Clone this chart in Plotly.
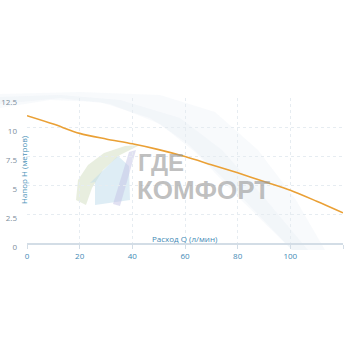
import plotly.graph_objects as go

# Data
flow_q = [0, 10, 20, 30, 40, 50, 60, 70, 80, 90, 100, 110, 120]
head_h = [10.97, 10.25, 9.45, 8.97, 8.55, 8.05, 7.45, 6.75, 6.05, 5.3, 4.55, 3.6, 2.6]
x_ticks = [0, 20, 40, 60, 80, 100, 120]
y_ticks = [0, 2.5, 5, 7.5, 10, 12.5]
y_tick_text = ["0", "2.5", "5", "7.5", "10", "12.5"]
x_title = "Расход Q (л/мин)"
y_title = "Напор H (метров)"
wm_line1 = "ГДЕ"
wm_line2 = "КОМФОРТ"

W, H = 350, 350
L, R, T, B = 27, 7, 98, 107
PW, PH = W - L - R, H - T - B


def px(x, y):
    return (x - L) / PW, (H - B - y) / PH


def path(points):
    s = ""
    for i, (x, y) in enumerate(points):
        a, b = px(x, y)
        s += ("M" if i == 0 else "L") + f"{a:.4f},{b:.4f} "
    return s + "Z"


fig = go.Figure()
fig.add_trace(go.Scatter(
    x=flow_q, y=head_h, mode="lines",
    line=dict(color="#eaa035", width=1.6, shape="spline", smoothing=0.8),
    hoverinfo="skip", showlegend=False,
))

swoosh = [(0, 108), (50, 100), (100, 102), (150, 118), (187, 143), (230, 185), (292, 250),
          (325, 250), (296, 200), (258, 150), (215, 112), (160, 95), (80, 92), (0, 94)]
swoosh_core = [(0, 104), (60, 98), (110, 104), (160, 124), (195, 152), (236, 195), (292, 250),
               (308, 250), (262, 195), (222, 150), (180, 118), (120, 100), (60, 95), (0, 97)]
leaf = [(76, 200), (78, 180), (88, 165), (104, 153), (125, 146), (140, 145), (120, 155),
        (103, 170), (92, 188), (86, 205)]
house = [(95, 205), (95, 182), (90, 183), (118, 156), (129, 166), (130, 200)]
stripe = [(129, 152), (136, 150), (120, 206), (113, 204)]

shapes = [
    dict(type="path", path=path(swoosh), xref="paper", yref="paper",
         fillcolor="rgba(214,226,238,0.18)", line=dict(width=0), layer="below"),
    dict(type="path", path=path(swoosh_core), xref="paper", yref="paper",
         fillcolor="rgba(214,226,238,0.18)", line=dict(width=0), layer="below"),
    dict(type="path", path=path(leaf), xref="paper", yref="paper",
         fillcolor="rgba(205,218,185,0.45)", line=dict(width=0), layer="below"),
    dict(type="path", path=path(house), xref="paper", yref="paper",
         fillcolor="rgba(190,220,236,0.5)", line=dict(width=0), layer="below"),
    dict(type="path", path=path(stripe), xref="paper", yref="paper",
         fillcolor="rgba(195,195,230,0.5)", line=dict(width=0), layer="below"),
]

ann = []
a, b = px(137, 162)
ann.append(dict(text=f"<b>{wm_line1}</b>", x=a, y=b, xref="paper", yref="paper",
                xanchor="left", yanchor="middle", showarrow=False, borderpad=0,
                font=dict(family="Liberation Sans, Arial", size=24, color="rgba(150,150,150,0.6)")))
a, b = px(136, 190)
ann.append(dict(text=f"<b>{wm_line2}</b>", x=a, y=b, xref="paper", yref="paper",
                xanchor="left", yanchor="middle", showarrow=False, borderpad=0,
                font=dict(family="Liberation Sans, Arial", size=26, color="rgba(150,150,150,0.6)")))
a, b = px(185, 238)
ann.append(dict(text=x_title, x=a, y=b, xref="paper", yref="paper",
                xanchor="center", yanchor="middle", showarrow=False,
                font=dict(family="Open Sans", size=8, color="#3f8ab5")))
a, b = px(23, 170)
ann.append(dict(text=y_title, x=a, y=b, xref="paper", yref="paper", textangle=-90,
                xanchor="center", yanchor="middle", showarrow=False,
                font=dict(family="Open Sans", size=8, color="#4d93b8")))

fig.update_layout(
    width=W, height=H,
    margin=dict(l=L, r=R, t=T, b=B),
    paper_bgcolor="white", plot_bgcolor="rgba(0,0,0,0)",
    shapes=shapes, annotations=ann,
    font=dict(family="Open Sans", size=8),
)
fig.update_xaxes(
    range=[0, 120], tickvals=x_ticks, ticks="outside", ticklen=4, tickcolor="#d3dde6",
    showline=True, linecolor="#d3dde6", linewidth=2, automargin=False,
    showgrid=True, gridcolor="#e6ecf1", griddash="dot", gridwidth=1,
    tickfont=dict(family="Open Sans", size=8, color="#3f8ab5"), zeroline=False,
)
fig.update_yaxes(
    range=[0, 12.5], tickvals=y_ticks, ticktext=y_tick_text, automargin=False,
    showline=False, showgrid=True, gridcolor="#e6ecf1", griddash="dot", gridwidth=1,
    ticks="", ticklabelstandoff=9, ticklabelshift=4,
    tickfont=dict(family="Open Sans", size=8, color="#7d8e9c"), zeroline=False,
)

fig.write_html("out.html")
